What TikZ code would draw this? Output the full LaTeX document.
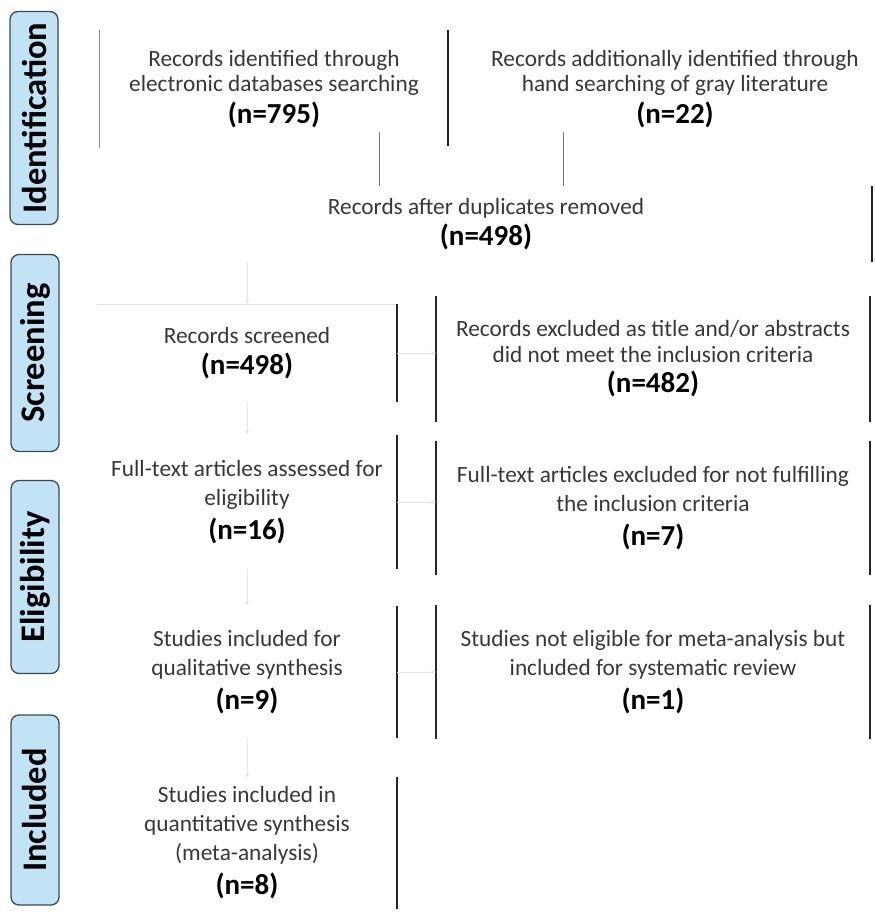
\documentclass[tikz,border=0pt]{standalone}
\usepackage{fontspec}
\setmainfont{Carlito}
\usetikzlibrary{arrows.meta}
\definecolor{phasefill}{HTML}{C2E2F6}
\definecolor{phaseline}{HTML}{3A4A55}
\newcommand{\nval}[1]{\\[5pt]{\fontsize{29}{30}\selectfont\bfseries\color{black}(n=#1)}}
\begin{document}
\begin{tikzpicture}[x=1pt,y=-1pt,
  boxnode/.style={align=center, inner sep=0pt, text=black!78,
    font=\fontsize{23.3}{25.5}\selectfont},
  loose/.style={font=\fontsize{23.3}{29}\selectfont},
  phase/.style={rounded corners=8pt, fill=phasefill, draw=phaseline, line width=1.3pt,
    rotate=90, inner sep=0pt, minimum height=48pt,
    font=\fontsize{34.5}{36}\selectfont\bfseries},
  side/.style={line width=2pt, black!85},
  lightside/.style={line width=1.2pt, black!45},
  faint/.style={line width=0.8pt, black!12},
  conn/.style={line width=0.9pt, black!55},
  faintarrow/.style={line width=0.8pt, black!10, -{Stealth[length=5pt]}}
]
\useasboundingbox (0,0) rectangle (875,919);
\fill[white] (0,0) rectangle (875,919);

% phase labels
\node[phase, minimum width=213pt] (pid) at (34,118) {Identification};
\node[phase, minimum width=197pt] (psc) at (35,353) {Screening};
\node[phase, minimum width=193pt] (pel) at (35,577) {Eligibility};
\node[phase, minimum width=190pt] (pin) at (35,810) {Included};

% boxes
\node[boxnode, minimum width=348pt, minimum height=118pt] (b1) at (274,89)
  {Records identified through\\electronic databases searching\nval{795}};
\node[boxnode, minimum width=400pt, minimum height=118pt] (b2) at (675,89)
  {Records additionally identified through\\hand searching of gray literature\nval{22}};
\node[boxnode, minimum width=772pt, minimum height=76pt] (b3) at (486,224)
  {Records after duplicates removed\nval{498}};
\node[boxnode, minimum width=300pt, minimum height=97pt] (b4) at (247,353)
  {Records screened\nval{498}};
\node[boxnode, minimum width=433pt, minimum height=125pt] (b5) at (653,359)
  {Records excluded as title and/or abstracts\\did not meet the inclusion criteria\nval{482}};
\node[boxnode, loose, minimum width=300pt, minimum height=134pt] (b6) at (247,502)
  {Full-text articles assessed for\\eligibility\nval{16}};
\node[boxnode, loose, minimum width=433pt, minimum height=133pt] (b7) at (653,508)
  {Full-text articles excluded for not fulfilling\\the inclusion criteria\nval{7}};
\node[boxnode, loose, minimum width=300pt, minimum height=132pt] (b8) at (247,672)
  {Studies included for\\qualitative synthesis\nval{9}};
\node[boxnode, loose, minimum width=433pt, minimum height=133pt] (b9) at (653,672)
  {Studies not eligible for meta-analysis but\\included for systematic review\nval{1}};
\node[boxnode, loose, minimum width=300pt, minimum height=131pt] (b10) at (247,843)
  {Studies included in\\quantitative synthesis\\(meta-analysis)\nval{8}};

% visible box sides
\draw[lightside] (b1.north west) -- (b1.south west);
\draw[side] (b1.north east) -- ([yshift=2pt]b1.south east);
\draw[side] (b3.north east) -- (b3.south east);
\draw[faint] (b4.north west) -- (b4.north east);
\draw[side] (b4.north east) -- (b4.south east);
\draw[side] (b5.north west) -- (b5.south west);
\draw[side] (b5.north east) -- (b5.south east);
\draw[side] (b6.north east) -- (b6.south east);
\draw[side] (b7.north west) -- (b7.south west);
\draw[side] (b7.north east) -- (b7.south east);
\draw[side] (b8.north east) -- (b8.south east);
\draw[side] (b9.north west) -- (b9.south west);
\draw[side] (b9.north east) -- (b9.south east);
\draw[side] (b10.north east) -- (b10.south east);

% connectors
\coordinate (c1) at (379,132);
\coordinate (c2) at (563,132);
\draw[conn] (c1) -- (c1 |- b3.north);
\draw[conn] (c2) -- (c2 |- b3.north);
\draw[faintarrow] (b3.south -| b4.north) -- (b4.north);
\draw[faintarrow] (b4) -- (b6);
\draw[faintarrow] (b6) -- (b8);
\draw[faintarrow] (b8) -- (b10);
\draw[faintarrow] (b4.east) -- (b4.east -| b5.west);
\draw[faintarrow] (b6.east) -- (b6.east -| b7.west);
\draw[faintarrow] (b8.east) -- (b8.east -| b9.west);
\end{tikzpicture}
\end{document}
